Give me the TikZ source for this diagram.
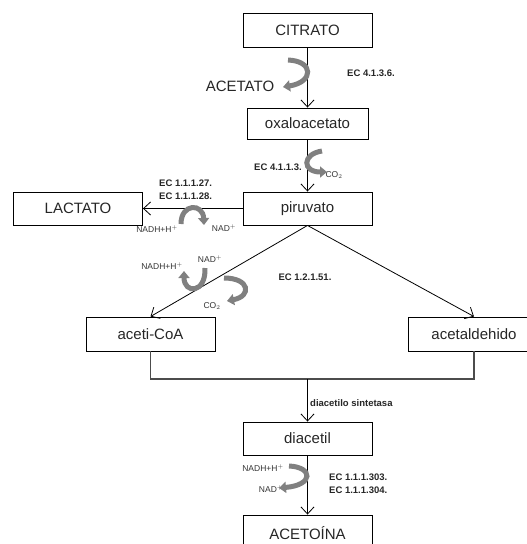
\documentclass[tikz,border=0pt]{standalone}
\usepackage{fontspec}
\setmainfont{Liberation Sans}
\usetikzlibrary{arrows.meta}
\begin{document}
\begin{tikzpicture}[x=1pt,y=-1pt,
  box/.style={draw, line width=0.9pt, inner sep=0pt, minimum width=129pt, minimum height=34pt,
              font=\fontsize{15}{17}\selectfont, text=black!85},
  bigtext/.style={inner sep=0pt, font=\fontsize{15}{17}\selectfont, text=black!85},
  enzyme/.style={inner sep=0pt, align=left, font=\fontsize{9.5}{13}\selectfont\bfseries, text=black!85},
  cof/.style={inner sep=0pt, font=\fontsize{8.5}{10}\selectfont, text=black!80},
  flow/.style={line width=0.8pt, -{Straight Barb[length=7pt,width=13pt]}},
  joint/.style={line width=1.1pt, draw=black!70},
  side/.style={line width=5pt, draw=black!50, -{Triangle[length=7pt,width=11pt]}}
]
\useasboundingbox (0,0) rectangle (527,544);

% metabolites
\node[box] (citrato)  at (307.5,30.5) {CITRATO};
\node[box, minimum width=121pt, minimum height=31pt] (oxalo) at (307.5,123.5) {oxaloacetato};
\node[box, minimum height=33pt] (piruvato) at (307.5,208.5) {piruvato};
\node[box, minimum height=33pt] (lactato)  at (78,208.5) {LACTATO};
\node[box] (aceti)    at (150.5,334) {aceti-CoA};
\node[box, minimum width=132pt] (acetal) at (474,334) {acetaldehido};
\node[box, minimum height=33pt] (diacetil) at (307.5,438.5) {diacetil};
\node[box, minimum height=36pt] (acetoina) at (307.5,533) {ACETOÍNA};
\coordinate (merge) at (307.5,379);

% main reactions
\draw[flow] (citrato) -- (oxalo);
\draw[flow] (oxalo) -- (piruvato);
\draw[flow] (piruvato.west) -- (lactato.east);
\draw[flow] (piruvato.south) -- (aceti.north);
\draw[flow] (piruvato.south) -- (acetal.north);
\draw[joint] (aceti.south) |- (merge) -| (acetal.south);
\draw[flow] (merge) -- (diacetil);
\draw[flow] (diacetil) -- (acetoina);

% enzymes
\node[bigtext] (acetato) at (240,86) {ACETATO};
\node[enzyme] (ec1) at (371,73.5) {EC 4.1.3.6.};
\node[enzyme] (ec2) at (278,167) {EC 4.1.1.3.};
\node[enzyme, anchor=west] (ec3) at (159,189.5) {EC 1.1.1.27.\\EC 1.1.1.28.};
\node[enzyme] (ec4) at (305,277) {EC 1.2.1.51.};
\node[enzyme, anchor=west] (ec5) at (310,403) {diacetilo sintetasa};
\node[enzyme, anchor=west] (ec6) at (329,484) {EC 1.1.1.303.\\EC 1.1.1.304.};

% cofactors
\node[cof] (co2a) at (334,175) {CO$_2$};
\node[cof] (nadh1) at (157,229) {NADH+H$^+$};
\node[cof] (nad1) at (224,228) {NAD$^+$};
\node[cof] (nadh2) at (162,266) {NADH+H$^+$};
\node[cof] (nad2) at (210,259) {NAD$^+$};
\node[cof] (co2b) at (212,306) {CO$_2$};
\node[cof] (nadh3) at (263,468) {NADH+H$^+$};
\node[cof] (nad3) at (271,489) {NAD$^+$};

% side arrows
\draw[side] (288,60) .. controls (314,61) and (314,82) .. (283,87);
\draw[side] (322,151) .. controls (302,154) and (302,172) .. (327,172);
\draw[side] (181,224) .. controls (181,203) and (203,203) .. (204,225);
\draw[side] (205,268) .. controls (206,294) and (184,294) .. (184,271);
\draw[side] (224,278) .. controls (250,278) and (252,296) .. (227,301);
\draw[side] (289,466) .. controls (313,467) and (314,485) .. (279,488);
\end{tikzpicture}
\end{document}
